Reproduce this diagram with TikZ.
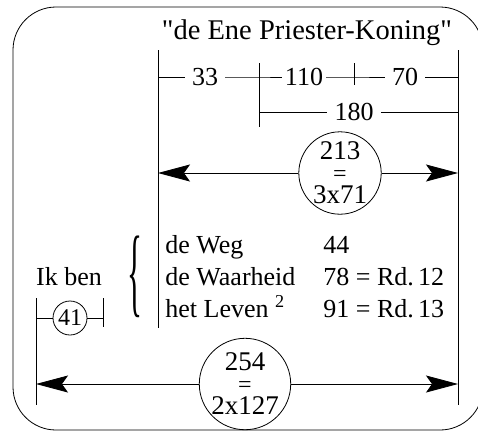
\documentclass[tikz,border=0pt]{standalone}
\usepackage{fontspec}
\usepackage{graphicx}
\setmainfont{Liberation Serif}
\usetikzlibrary{arrows.meta}

\tikzset{
  txt/.style={font=\fontsize{26}{30}\selectfont, inner sep=0pt},
  num/.style={font=\fontsize{26}{30}\selectfont, inner xsep=7pt, inner ysep=0pt},
  ring/.style={draw, circle, minimum size=78pt, inner sep=0pt, align=center,
               font=\fontsize{27}{22}\selectfont},
  dimarrow/.style={-{Stealth[length=32pt,width=17pt,inset=6pt]}}
}
\newcommand{\smalleq}{{\fontsize{24}{22}\selectfont=}}

\begin{document}
\begin{tikzpicture}[x=1pt, y=-1pt, line width=0.8pt]
            \useasboundingbox (0,0) rectangle (478,432);
            \draw[rounded corners=43pt] (13,7) rectangle (483,430);

            \node[txt, anchor=base, font=\fontsize{28.5}{32}\selectfont] (title) at (307,39)
                {\textquotedbl de Ene Priester-Koning\textquotedbl};

            % verticale lijnen
            \coordinate (vl) at (158,50);
            \coordinate (vlend) at (158,328);
            \coordinate (vr) at (458,50);
            \coordinate (vrend) at (458,405);
            \coordinate (vb) at (36,298);
            \coordinate (vbend) at (36,405);
            \draw (vl) -- (vlend);
            \draw (vr) -- (vrend);
            \draw (vb) -- (vbend);

            % 33 + 110 + 70 en 180
            \coordinate (r1l) at (158,77);
            \coordinate (r1r) at (458,77);
            \coordinate (t1) at (259,77);
            \coordinate (t2) at (354,77);
            \node[num] (n33) at (205,77) {33};
            \node[num, inner xsep=3pt] (n110) at (304,77) {110};
            \node[num] (n70) at (405,77) {70};
            \draw (r1l) -- (n33) -- (t1) -- (n110) -- (t2) -- (n70) -- (r1r);
            \draw (259,63) -- (259,127);
            \draw (354,63) -- (354,85);

            \coordinate (r2l) at (259,112);
            \coordinate (r2r) at (458,112);
            \node[num] (n180) at (354,112) {180};
            \draw (r2l) -- (n180) -- (r2r);

            % 213 = 3x71
            \node[ring] (c213) at (340,173) {213\\\smalleq\\3x71};
            \draw[dimarrow] (c213) -- (158,173);
            \draw[dimarrow] (c213) -- (458,173);

            % Ik ben ...
            \node[txt, anchor=base] (ikben) at (69,285) {Ik ben};
            \node[inner sep=0pt] (brace) at (135,277)
                {\scalebox{1.2}[3.8]{\fontsize{26}{30}\selectfont\{}};
            \node[txt, anchor=base west] (weg) at (165,253) {de Weg};
            \node[txt, anchor=base west] (waarheid) at (165,285) {de Waarheid};
            \node[txt, anchor=base west] (leven) at (165,317) {het Leven \textsuperscript{2}};
            \node[txt, anchor=base west] (w44) at (323,253) {44};
            \node[txt, anchor=base west] (w78) at (323,285) {78 = Rd.\,12};
            \node[txt, anchor=base west] (w91) at (323,317) {91 = Rd.\,13};

            % 41
            \node[draw, circle, minimum size=34pt, inner sep=0pt,
                  font=\fontsize{24}{28}\selectfont] (c41) at (70,318) {41};
            \coordinate (k1) at (36,318);
            \coordinate (k2) at (103,318);
            \draw (k1) -- (c41) -- (k2);
            \draw (103,298) -- (103,327);

            % 254 = 2x127
            \node[ring] (c254) at (245,384) {254\\\smalleq\\2x127};
            \draw[dimarrow] (c254) -- (36,384);
            \draw[dimarrow] (c254) -- (458,384);
\end{tikzpicture}
\end{document}
